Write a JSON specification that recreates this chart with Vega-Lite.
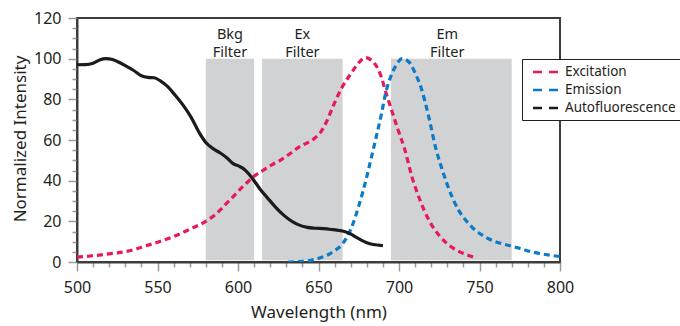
{
  "$schema": "https://vega.github.io/schema/vega-lite/v6.json",
  "width": 483,
  "height": 244,
  "autosize": {"type": "none"},
  "padding": {"left": 77, "top": 18, "right": 120, "bottom": 64},
  "background": "white",
  "config": {
    "font": "Noto Sans",
    "view": {"stroke": "#3c3c3c", "strokeWidth": 2},
    "axis": {"grid": false, "domainColor": "#3c3c3c", "domainWidth": 2, "tickColor": "#9a9a9a", "tickWidth": 1.5, "labelColor": "#231f20", "labelFontSize": 16, "titleColor": "#231f20", "titleFontSize": 17, "titleFontWeight": "normal", "labelOverlap": false, "labelFlush": false}
  },
  "datasets": {
    "filters": [
      {"name": "Bkg\nFilter", "start": 580, "end": 610, "center": 595},
      {"name": "Ex\nFilter", "start": 615, "end": 665, "center": 640},
      {"name": "Em\nFilter", "start": 695, "end": 770, "center": 730}
    ],
    "curves": [
      {"series": "Excitation", "nm": 500, "v": 2.4},
      {"series": "Excitation", "nm": 505, "v": 2.7},
      {"series": "Excitation", "nm": 510, "v": 3.1},
      {"series": "Excitation", "nm": 515, "v": 3.5},
      {"series": "Excitation", "nm": 520, "v": 4.0},
      {"series": "Excitation", "nm": 527, "v": 4.7},
      {"series": "Excitation", "nm": 535, "v": 6.0},
      {"series": "Excitation", "nm": 540, "v": 7.3},
      {"series": "Excitation", "nm": 550, "v": 9.7},
      {"series": "Excitation", "nm": 560, "v": 12.5},
      {"series": "Excitation", "nm": 570, "v": 16.1},
      {"series": "Excitation", "nm": 580, "v": 20.0},
      {"series": "Excitation", "nm": 585, "v": 22.7},
      {"series": "Excitation", "nm": 589, "v": 25.6},
      {"series": "Excitation", "nm": 593, "v": 29.0},
      {"series": "Excitation", "nm": 597, "v": 32.1},
      {"series": "Excitation", "nm": 601, "v": 35.5},
      {"series": "Excitation", "nm": 605, "v": 38.6},
      {"series": "Excitation", "nm": 610, "v": 42.2},
      {"series": "Excitation", "nm": 616, "v": 45.3},
      {"series": "Excitation", "nm": 621, "v": 47.8},
      {"series": "Excitation", "nm": 626, "v": 49.9},
      {"series": "Excitation", "nm": 630, "v": 52.0},
      {"series": "Excitation", "nm": 634, "v": 54.3},
      {"series": "Excitation", "nm": 638, "v": 56.6},
      {"series": "Excitation", "nm": 643, "v": 58.6},
      {"series": "Excitation", "nm": 647, "v": 60.5},
      {"series": "Excitation", "nm": 651, "v": 63.5},
      {"series": "Excitation", "nm": 655, "v": 69.0},
      {"series": "Excitation", "nm": 659, "v": 76.5},
      {"series": "Excitation", "nm": 664, "v": 85.0},
      {"series": "Excitation", "nm": 670, "v": 92.5},
      {"series": "Excitation", "nm": 675, "v": 98.0},
      {"series": "Excitation", "nm": 679, "v": 100.5},
      {"series": "Excitation", "nm": 685, "v": 97.5},
      {"series": "Excitation", "nm": 689, "v": 91.0},
      {"series": "Excitation", "nm": 692, "v": 83.0},
      {"series": "Excitation", "nm": 695.5, "v": 74.5},
      {"series": "Excitation", "nm": 699, "v": 66.0},
      {"series": "Excitation", "nm": 703.7, "v": 55.0},
      {"series": "Excitation", "nm": 708, "v": 42.0},
      {"series": "Excitation", "nm": 713, "v": 30.5},
      {"series": "Excitation", "nm": 719, "v": 20.0},
      {"series": "Excitation", "nm": 725.5, "v": 12.5},
      {"series": "Excitation", "nm": 733.7, "v": 6.8},
      {"series": "Excitation", "nm": 742, "v": 3.6},
      {"series": "Excitation", "nm": 748, "v": 2.0},
      {"series": "Emission", "nm": 631, "v": 0.0},
      {"series": "Emission", "nm": 640, "v": 0.3},
      {"series": "Emission", "nm": 645, "v": 0.8},
      {"series": "Emission", "nm": 650, "v": 1.8},
      {"series": "Emission", "nm": 655, "v": 3.2},
      {"series": "Emission", "nm": 660, "v": 5.5},
      {"series": "Emission", "nm": 665, "v": 9.0},
      {"series": "Emission", "nm": 670, "v": 16.0},
      {"series": "Emission", "nm": 675, "v": 27.5},
      {"series": "Emission", "nm": 680, "v": 42.0},
      {"series": "Emission", "nm": 683, "v": 52.0},
      {"series": "Emission", "nm": 686, "v": 62.0},
      {"series": "Emission", "nm": 689, "v": 72.5},
      {"series": "Emission", "nm": 692, "v": 84.0},
      {"series": "Emission", "nm": 695, "v": 91.5},
      {"series": "Emission", "nm": 698, "v": 96.5},
      {"series": "Emission", "nm": 702, "v": 100.0},
      {"series": "Emission", "nm": 706, "v": 98.5},
      {"series": "Emission", "nm": 710, "v": 93.0},
      {"series": "Emission", "nm": 714, "v": 85.0},
      {"series": "Emission", "nm": 718, "v": 73.0},
      {"series": "Emission", "nm": 723, "v": 55.5},
      {"series": "Emission", "nm": 727, "v": 45.0},
      {"series": "Emission", "nm": 730, "v": 38.0},
      {"series": "Emission", "nm": 737, "v": 25.5},
      {"series": "Emission", "nm": 742, "v": 20.0},
      {"series": "Emission", "nm": 746, "v": 16.6},
      {"series": "Emission", "nm": 751, "v": 13.6},
      {"series": "Emission", "nm": 756, "v": 11.3},
      {"series": "Emission", "nm": 763, "v": 9.2},
      {"series": "Emission", "nm": 771, "v": 7.6},
      {"series": "Emission", "nm": 777, "v": 6.2},
      {"series": "Emission", "nm": 783, "v": 4.9},
      {"series": "Emission", "nm": 790, "v": 3.8},
      {"series": "Emission", "nm": 800, "v": 2.7},
      {"series": "Autofluorescence", "nm": 500, "v": 97.0},
      {"series": "Autofluorescence", "nm": 505, "v": 97.1},
      {"series": "Autofluorescence", "nm": 510, "v": 97.8},
      {"series": "Autofluorescence", "nm": 514, "v": 99.4},
      {"series": "Autofluorescence", "nm": 518, "v": 100.0},
      {"series": "Autofluorescence", "nm": 522, "v": 99.6},
      {"series": "Autofluorescence", "nm": 525, "v": 98.6},
      {"series": "Autofluorescence", "nm": 530, "v": 96.6},
      {"series": "Autofluorescence", "nm": 535, "v": 94.3},
      {"series": "Autofluorescence", "nm": 540, "v": 91.6},
      {"series": "Autofluorescence", "nm": 544, "v": 90.8},
      {"series": "Autofluorescence", "nm": 548, "v": 90.6},
      {"series": "Autofluorescence", "nm": 552, "v": 89.0},
      {"series": "Autofluorescence", "nm": 556, "v": 86.5},
      {"series": "Autofluorescence", "nm": 561, "v": 82.0},
      {"series": "Autofluorescence", "nm": 566, "v": 77.0},
      {"series": "Autofluorescence", "nm": 571, "v": 71.0},
      {"series": "Autofluorescence", "nm": 576, "v": 63.5},
      {"series": "Autofluorescence", "nm": 580, "v": 58.8},
      {"series": "Autofluorescence", "nm": 585, "v": 55.5},
      {"series": "Autofluorescence", "nm": 589, "v": 53.6},
      {"series": "Autofluorescence", "nm": 593, "v": 51.3},
      {"series": "Autofluorescence", "nm": 597, "v": 48.4},
      {"series": "Autofluorescence", "nm": 601, "v": 47.0},
      {"series": "Autofluorescence", "nm": 604, "v": 45.5},
      {"series": "Autofluorescence", "nm": 607, "v": 43.0},
      {"series": "Autofluorescence", "nm": 610, "v": 40.0},
      {"series": "Autofluorescence", "nm": 614, "v": 35.5},
      {"series": "Autofluorescence", "nm": 618, "v": 31.8},
      {"series": "Autofluorescence", "nm": 624, "v": 26.4},
      {"series": "Autofluorescence", "nm": 628, "v": 23.3},
      {"series": "Autofluorescence", "nm": 632, "v": 20.8},
      {"series": "Autofluorescence", "nm": 637, "v": 18.5},
      {"series": "Autofluorescence", "nm": 643, "v": 17.0},
      {"series": "Autofluorescence", "nm": 648, "v": 16.6},
      {"series": "Autofluorescence", "nm": 653, "v": 16.4},
      {"series": "Autofluorescence", "nm": 658, "v": 16.0},
      {"series": "Autofluorescence", "nm": 663, "v": 15.5},
      {"series": "Autofluorescence", "nm": 667, "v": 14.8},
      {"series": "Autofluorescence", "nm": 670, "v": 13.8},
      {"series": "Autofluorescence", "nm": 673, "v": 12.3},
      {"series": "Autofluorescence", "nm": 676, "v": 11.0},
      {"series": "Autofluorescence", "nm": 680, "v": 9.5},
      {"series": "Autofluorescence", "nm": 684, "v": 8.6},
      {"series": "Autofluorescence", "nm": 690, "v": 8.1}
    ]
  },
  "layer": [
    {
      "data": {"name": "filters"},
      "mark": {"type": "rect", "color": "#d1d2d4"},
      "encoding": {
        "x": {
          "field": "start", "type": "quantitative", "scale": {"domain": [500, 800], "nice": false, "zero": false}, "title": "Wavelength (nm)",
          "axis": {"values": [500,510,520,530,540,550,560,570,580,590,600,610,620,630,640,650,660,670,680,690,700,710,720,730,740,750,760,770,780,790,800], "labelExpr": "datum.value % 50 === 0 ? datum.label : ''", "tickSize": {"condition": {"test": "datum.value % 50 === 0", "value": 9}, "value": 5}, "labelPadding": 8, "titleX": 241.5, "titleY": 55, "titleBaseline": "alphabetic", "titleAlign": "center"}
        },
        "x2": {"field": "end"},
        "y": {
          "datum": 0.8, "type": "quantitative", "scale": {"domain": [0, 120], "nice": false}, "title": "Normalized Intensity",
          "axis": {"values": [0,5,10,15,20,25,30,35,40,45,50,55,60,65,70,75,80,85,90,95,100,105,110,115,120], "labelExpr": "datum.value % 20 === 0 ? datum.label : ''", "tickSize": {"condition": {"test": "datum.value % 20 === 0", "value": 9}, "value": 5}, "labelPadding": 7, "titleX": -52, "titleY": 120.5, "titleAngle": -90, "titleBaseline": "alphabetic", "titleAlign": "center"}
        },
        "y2": {"datum": 100}
      }
    },
    {
      "data": {"name": "filters"},
      "mark": {"type": "text", "lineBreak": "\n", "fontSize": 14.5, "lineHeight": 18, "color": "#231f20", "baseline": "alphabetic", "align": "center"},
      "encoding": {
        "x": {
          "field": "center", "type": "quantitative", "title": "Wavelength (nm)",
          "axis": {"values": [500,510,520,530,540,550,560,570,580,590,600,610,620,630,640,650,660,670,680,690,700,710,720,730,740,750,760,770,780,790,800], "labelExpr": "datum.value % 50 === 0 ? datum.label : ''", "tickSize": {"condition": {"test": "datum.value % 50 === 0", "value": 9}, "value": 5}, "labelPadding": 8, "titleX": 241.5, "titleY": 55, "titleBaseline": "alphabetic", "titleAlign": "center"}
        },
        "y": {
          "datum": 109.9, "type": "quantitative", "title": "Normalized Intensity",
          "axis": {"values": [0,5,10,15,20,25,30,35,40,45,50,55,60,65,70,75,80,85,90,95,100,105,110,115,120], "labelExpr": "datum.value % 20 === 0 ? datum.label : ''", "tickSize": {"condition": {"test": "datum.value % 20 === 0", "value": 9}, "value": 5}, "labelPadding": 7, "titleX": -52, "titleY": 120.5, "titleAngle": -90, "titleBaseline": "alphabetic", "titleAlign": "center"}
        },
        "text": {"field": "name"}
      }
    },
    {
      "data": {"name": "curves"},
      "transform": [{"filter": "datum.series !== 'Autofluorescence'"}],
      "mark": {"type": "line", "interpolate": "monotone", "strokeWidth": 3.2, "strokeCap": "butt", "strokeDash": [6, 4], "clip": true},
      "encoding": {
        "x": {
          "field": "nm", "type": "quantitative", "title": "Wavelength (nm)",
          "axis": {"values": [500,510,520,530,540,550,560,570,580,590,600,610,620,630,640,650,660,670,680,690,700,710,720,730,740,750,760,770,780,790,800], "labelExpr": "datum.value % 50 === 0 ? datum.label : ''", "tickSize": {"condition": {"test": "datum.value % 50 === 0", "value": 9}, "value": 5}, "labelPadding": 8, "titleX": 241.5, "titleY": 55, "titleBaseline": "alphabetic", "titleAlign": "center"}
        },
        "y": {
          "field": "v", "type": "quantitative", "title": "Normalized Intensity",
          "axis": {"values": [0,5,10,15,20,25,30,35,40,45,50,55,60,65,70,75,80,85,90,95,100,105,110,115,120], "labelExpr": "datum.value % 20 === 0 ? datum.label : ''", "tickSize": {"condition": {"test": "datum.value % 20 === 0", "value": 9}, "value": 5}, "labelPadding": 7, "titleX": -52, "titleY": 120.5, "titleAngle": -90, "titleBaseline": "alphabetic", "titleAlign": "center"}
        },
        "color": {
          "field": "series", "type": "nominal",
          "scale": {"domain": ["Excitation", "Emission", "Autofluorescence"], "range": ["#e8185c", "#0a7bc8", "#1b1b1b"]},
          "legend": {
            "title": null, "orient": "none", "legendX": 445, "legendY": 41,
            "strokeColor": "#231f20", "padding": 5,
            "symbolType": "M-2,0H2", "symbolSize": 169, "symbolStrokeWidth": 2.5, "symbolDash": [9, 7],
            "symbolOffset": 11, "labelOffset": 11, "labelFontSize": 13.5, "labelColor": "#231f20",
            "rowPadding": 3, "fillColor": "white",
            "values": ["Excitation", "Emission", "Autofluorescence"]
          }
        }
      }
    },
    {
      "data": {"name": "curves"},
      "transform": [{"filter": "datum.series === 'Autofluorescence'"}],
      "mark": {"type": "line", "interpolate": "monotone", "strokeWidth": 3.2, "clip": true},
      "encoding": {
        "x": {
          "field": "nm", "type": "quantitative", "title": "Wavelength (nm)",
          "axis": {"values": [500,510,520,530,540,550,560,570,580,590,600,610,620,630,640,650,660,670,680,690,700,710,720,730,740,750,760,770,780,790,800], "labelExpr": "datum.value % 50 === 0 ? datum.label : ''", "tickSize": {"condition": {"test": "datum.value % 50 === 0", "value": 9}, "value": 5}, "labelPadding": 8, "titleX": 241.5, "titleY": 55, "titleBaseline": "alphabetic", "titleAlign": "center"}
        },
        "y": {
          "field": "v", "type": "quantitative", "title": "Normalized Intensity",
          "axis": {"values": [0,5,10,15,20,25,30,35,40,45,50,55,60,65,70,75,80,85,90,95,100,105,110,115,120], "labelExpr": "datum.value % 20 === 0 ? datum.label : ''", "tickSize": {"condition": {"test": "datum.value % 20 === 0", "value": 9}, "value": 5}, "labelPadding": 7, "titleX": -52, "titleY": 120.5, "titleAngle": -90, "titleBaseline": "alphabetic", "titleAlign": "center"}
        },
        "color": {"field": "series", "type": "nominal"}
      }
    }
  ]
}
